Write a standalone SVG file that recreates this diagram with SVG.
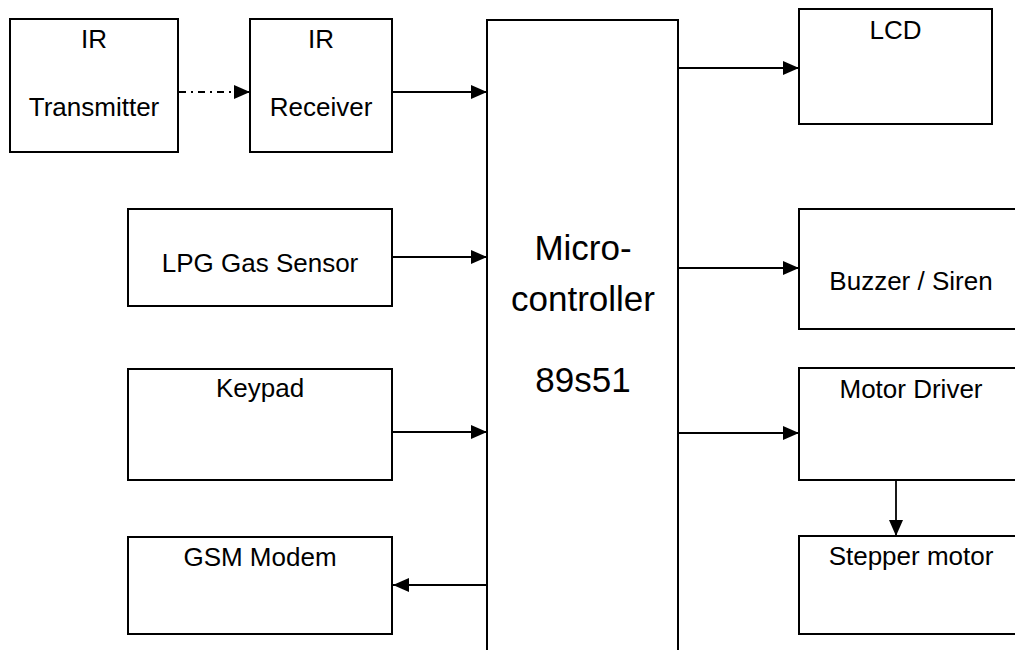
<svg xmlns="http://www.w3.org/2000/svg" width="1015" height="650" viewBox="0 0 1015 650">
  <defs>
    <marker id="arr" markerUnits="userSpaceOnUse" markerWidth="16" markerHeight="14" refX="16" refY="7" orient="auto">
      <path d="M0,0 L16,7 L0,14 z" fill="#000"/>
    </marker>
    <style>
      .box { fill: #fff; stroke: #000; stroke-width: 2; }
      .lbl { font-family: "Liberation Sans", Arial, sans-serif; font-size: 26px; fill: #000; text-anchor: middle; }
      .big { font-family: "Liberation Sans", Arial, sans-serif; font-size: 35px; fill: #000; text-anchor: middle; }
      .con { fill: none; stroke: #000; stroke-width: 1.8; }
      .dash { stroke-dasharray: 7 5 2 5; }
    </style>
  </defs>
  <rect width="1015" height="650" fill="#fff"/>

  <g id="ir-transmitter">
    <rect class="box" x="10" y="19" width="168" height="133"/>
    <text class="lbl" x="94" y="48">IR</text>
    <text class="lbl" x="94" y="116">Transmitter</text>
  </g>
  <g id="ir-receiver">
    <rect class="box" x="250" y="19" width="142" height="133"/>
    <text class="lbl" x="321" y="48">IR</text>
    <text class="lbl" x="321" y="116">Receiver</text>
  </g>
  <g id="lpg-sensor">
    <rect class="box" x="128" y="209" width="264" height="97"/>
    <text class="lbl" x="260" y="272">LPG Gas Sensor</text>
  </g>
  <g id="keypad">
    <rect class="box" x="128" y="369" width="264" height="111"/>
    <text class="lbl" x="260" y="397">Keypad</text>
  </g>
  <g id="gsm-modem">
    <rect class="box" x="128" y="537" width="264" height="97"/>
    <text class="lbl" x="260" y="566">GSM Modem</text>
  </g>
  <g id="microcontroller">
    <rect class="box" x="487" y="20" width="191" height="645"/>
    <text class="big" x="583" y="260">Micro-</text>
    <text class="big" x="583" y="311">controller</text>
    <text class="big" x="583" y="392">89s51</text>
  </g>
  <g id="lcd">
    <rect class="box" x="799" y="9" width="193" height="115"/>
    <text class="lbl" x="895.5" y="39">LCD</text>
  </g>
  <g id="buzzer">
    <rect class="box" x="799" y="209" width="240" height="120"/>
    <text class="lbl" x="911" y="290">Buzzer / Siren</text>
  </g>
  <g id="motor-driver">
    <rect class="box" x="799" y="368" width="240" height="112"/>
    <text class="lbl" x="911" y="398">Motor Driver</text>
  </g>
  <g id="stepper-motor">
    <rect class="box" x="799" y="536" width="240" height="98"/>
    <text class="lbl" x="911" y="565">Stepper motor</text>
  </g>

  <g id="connectors">
    <line class="con dash" x1="179" y1="92" x2="250" y2="92" marker-end="url(#arr)"/>
    <line class="con" x1="393" y1="92" x2="487" y2="92" marker-end="url(#arr)"/>
    <line class="con" x1="393" y1="257" x2="487" y2="257" marker-end="url(#arr)"/>
    <line class="con" x1="393" y1="432" x2="487" y2="432" marker-end="url(#arr)"/>
    <line class="con" x1="487" y1="585" x2="393" y2="585" marker-end="url(#arr)"/>
    <line class="con" x1="679" y1="68" x2="799" y2="68" marker-end="url(#arr)"/>
    <line class="con" x1="679" y1="268" x2="799" y2="268" marker-end="url(#arr)"/>
    <line class="con" x1="679" y1="433" x2="799" y2="433" marker-end="url(#arr)"/>
    <line class="con" x1="896" y1="481" x2="896" y2="536" marker-end="url(#arr)"/>
  </g>
</svg>
